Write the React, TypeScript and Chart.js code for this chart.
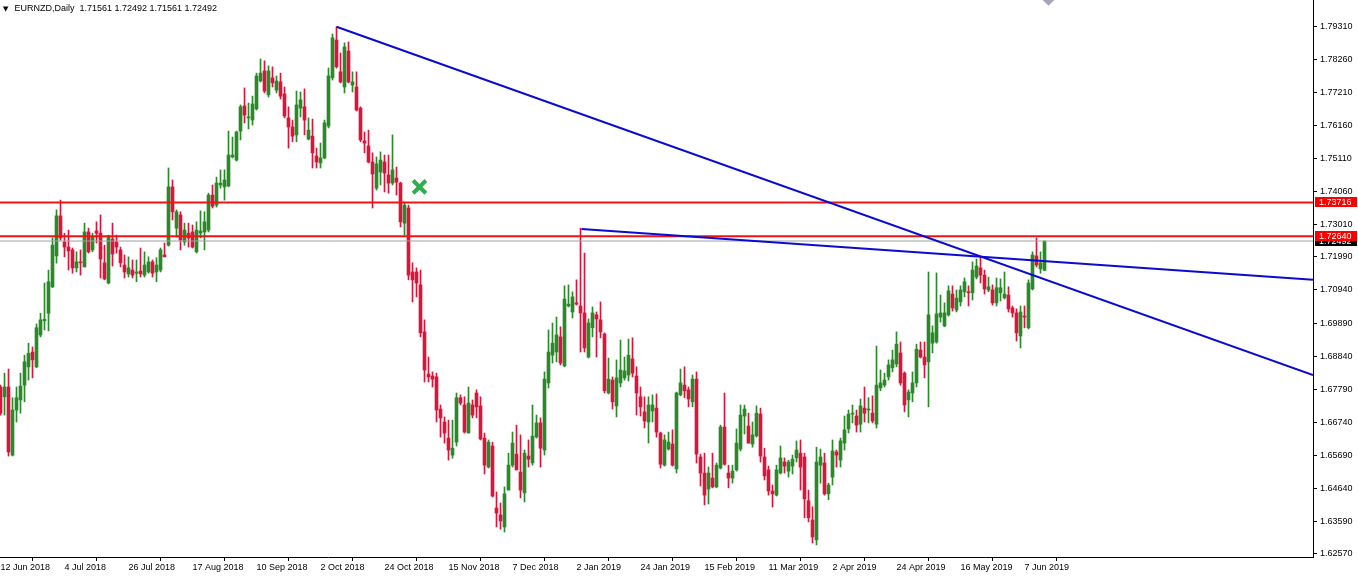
import React, { useEffect, useRef } from 'react';
import { Chart, registerables } from 'chart.js';

Chart.register(...registerables);

// ---------- DATA (EURNZD Daily, one entry per trading day from 12 Jun 2018) ----------
const OPEN = [
  1.6786, 1.6755, 1.6786, 1.6570, 1.6713, 1.6745, 1.6792, 1.6850, 1.6897, 1.6850,
  1.6951, 1.6996, 1.7020, 1.7104, 1.7202, 1.7329, 1.7246, 1.7230, 1.7221, 1.7164,
  1.7183, 1.7167, 1.7278, 1.7221, 1.7281, 1.7274, 1.7180, 1.7116, 1.7255, 1.7246,
  1.7221, 1.7173, 1.7145, 1.7157, 1.7147, 1.7154, 1.7141, 1.7151, 1.7183, 1.7151,
  1.7157, 1.7205, 1.7236, 1.7421, 1.7290, 1.7332, 1.7246, 1.7274, 1.7278, 1.7215,
  1.7274, 1.7278, 1.7284, 1.7395, 1.7363, 1.7427, 1.7421, 1.7424, 1.7516, 1.7506,
  1.7598, 1.7678, 1.7640, 1.7633, 1.7668, 1.7757, 1.7789, 1.7713, 1.7767, 1.7728,
  1.7754, 1.7716, 1.7640, 1.7611, 1.7586, 1.7671, 1.7675, 1.7573, 1.7582, 1.7519,
  1.7497, 1.7513, 1.7614, 1.7767, 1.7887, 1.7786, 1.7738, 1.7852, 1.7744, 1.7738,
  1.7671, 1.7567, 1.7551, 1.7500, 1.7417, 1.7468, 1.7500, 1.7459, 1.7433, 1.7449,
  1.7433, 1.7306, 1.7354, 1.7151, 1.7151, 1.7110, 1.6961, 1.6827, 1.6821, 1.6818,
  1.6716, 1.6675, 1.6624, 1.6570, 1.6611, 1.6752, 1.6729, 1.6640, 1.6729, 1.6767,
  1.6726, 1.6624, 1.6532, 1.6599, 1.6402, 1.6380, 1.6342, 1.6459, 1.6538, 1.6573,
  1.6516, 1.6450, 1.6567, 1.6545, 1.6627, 1.6672, 1.6586, 1.6799, 1.6887, 1.6897,
  1.6945, 1.6853, 1.7043, 1.7024, 1.7053, 1.7043, 1.7021, 1.6881, 1.6974, 1.7015,
  1.6999, 1.6954, 1.6767, 1.6808, 1.6726, 1.6799, 1.6815, 1.6824, 1.6875, 1.6821,
  1.6755, 1.6707, 1.6675, 1.6710, 1.6719, 1.6640, 1.6538, 1.6589, 1.6605, 1.6526,
  1.6761, 1.6792, 1.6777, 1.6739, 1.6811, 1.6564, 1.6513, 1.6462, 1.6497, 1.6469,
  1.6529, 1.6659, 1.6513, 1.6497, 1.6523, 1.6589, 1.6694, 1.6662, 1.6605, 1.6631,
  1.6700, 1.6564, 1.6523, 1.6456, 1.6443, 1.6513, 1.6548, 1.6519, 1.6535, 1.6561,
  1.6576, 1.6564, 1.6425, 1.6364, 1.6301, 1.6538, 1.6545, 1.6447, 1.6500, 1.6580,
  1.6554, 1.6608, 1.6653, 1.6700, 1.6694, 1.6668, 1.6719, 1.6713, 1.6703, 1.6668,
  1.6783, 1.6792, 1.6818, 1.6847, 1.6859, 1.6894, 1.6830, 1.6745, 1.6767, 1.6799,
  1.6903, 1.6881, 1.6866, 1.6925, 1.6929, 1.7008, 1.6980, 1.7015, 1.7081, 1.7030,
  1.7056, 1.7088, 1.7088, 1.7085, 1.7135, 1.7164, 1.7141, 1.7094, 1.7094, 1.7053,
  1.7085, 1.7069, 1.7078, 1.7037, 1.7021, 1.6948, 1.7011, 1.6974, 1.7097, 1.7202,
  1.7161, 1.71561,
];

const HIGH = [
  1.6792, 1.6830, 1.6843, 1.6752, 1.6786, 1.6830, 1.6887, 1.6925, 1.6913, 1.6986,
  1.7020, 1.7116, 1.7157, 1.7259, 1.7348, 1.7379, 1.7274, 1.7284, 1.7227, 1.7215,
  1.7221, 1.7306, 1.7290, 1.7274, 1.7310, 1.7332, 1.7236, 1.7268, 1.7306, 1.7268,
  1.7230, 1.7205, 1.7199, 1.7189, 1.7189, 1.7227, 1.7215, 1.7199, 1.7189, 1.7196,
  1.7227, 1.7243, 1.7481, 1.7443, 1.7348, 1.7342, 1.7306, 1.7306, 1.7300, 1.7310,
  1.7345, 1.7342, 1.7401, 1.7427, 1.7452, 1.7475, 1.7475, 1.7598, 1.7579, 1.7598,
  1.7681, 1.7735, 1.7687, 1.7709, 1.7782, 1.7827, 1.7821, 1.7805, 1.7802, 1.7773,
  1.7782, 1.7738, 1.7675, 1.7633, 1.7725, 1.7722, 1.7732, 1.7640, 1.7636, 1.7544,
  1.7560, 1.7633, 1.7798, 1.7906, 1.7929, 1.7846, 1.7878, 1.7881, 1.7786, 1.7786,
  1.7675, 1.7595, 1.7601, 1.7529, 1.7516, 1.7532, 1.7522, 1.7522, 1.7586, 1.7484,
  1.7436, 1.7373, 1.7363, 1.7180, 1.7164, 1.7157, 1.6999, 1.6881, 1.6834, 1.6830,
  1.6729, 1.6691, 1.6681, 1.6681, 1.6767, 1.6761, 1.6755, 1.6786, 1.6745, 1.6777,
  1.6755, 1.6640, 1.6618, 1.6611, 1.6453, 1.6418, 1.6469, 1.6576, 1.6643, 1.6665,
  1.6634, 1.6586, 1.6618, 1.6729, 1.6697, 1.6688, 1.6834, 1.6967, 1.6989, 1.7008,
  1.6977, 1.7107, 1.7110, 1.7088, 1.7126, 1.7290, 1.7211, 1.7002, 1.7040, 1.7024,
  1.7056, 1.6958, 1.6878, 1.6818, 1.6872, 1.6935, 1.6881, 1.6938, 1.6942, 1.6850,
  1.6786, 1.6755, 1.6755, 1.6761, 1.6764, 1.6643, 1.6634, 1.6643, 1.6650, 1.6770,
  1.6843, 1.6850, 1.6786, 1.6824, 1.6834, 1.6573, 1.6576, 1.6532, 1.6576, 1.6545,
  1.6665, 1.6767, 1.6538, 1.6538, 1.6653, 1.6729, 1.6729, 1.6703, 1.6675, 1.6726,
  1.6719, 1.6592, 1.6535, 1.6475, 1.6538, 1.6599, 1.6561, 1.6554, 1.6570, 1.6615,
  1.6618, 1.6576, 1.6459, 1.6406, 1.6595, 1.6589, 1.6576, 1.6481, 1.6618, 1.6586,
  1.6624, 1.6694, 1.6713, 1.6729, 1.6713, 1.6748, 1.6786, 1.6752, 1.6758, 1.6916,
  1.6840, 1.6830, 1.6872, 1.6903, 1.6961, 1.6929, 1.6834, 1.6777, 1.6834, 1.6922,
  1.6929, 1.6929, 1.7151, 1.6980, 1.7148, 1.7078, 1.7053, 1.7107, 1.7107, 1.7094,
  1.7107, 1.7132, 1.7107, 1.7183, 1.7192, 1.7199, 1.7157, 1.7135, 1.7110, 1.7132,
  1.7129, 1.7151, 1.7104, 1.7043, 1.7034, 1.7043, 1.7043, 1.7126, 1.7215, 1.7259,
  1.7215, 1.72492,
];

const LOW = [
  1.6697, 1.6697, 1.6567, 1.6567, 1.6675, 1.6703, 1.6739, 1.6808, 1.6815, 1.6847,
  1.6945, 1.6967, 1.6964, 1.7101, 1.7179, 1.7252, 1.7199, 1.7157, 1.7147, 1.7151,
  1.7141, 1.7167, 1.7211, 1.7215, 1.7243, 1.7132, 1.7126, 1.7113, 1.7170, 1.7211,
  1.7167, 1.7132, 1.7135, 1.7132, 1.7120, 1.7135, 1.7135, 1.7147, 1.7135, 1.7120,
  1.7151, 1.7199, 1.7233, 1.7316, 1.7262, 1.7221, 1.7236, 1.7230, 1.7227, 1.7211,
  1.7259, 1.7221, 1.7278, 1.7354, 1.7357, 1.7417, 1.7379, 1.7421, 1.7513, 1.7503,
  1.7570, 1.7624, 1.7605, 1.7617, 1.7665, 1.7754, 1.7719, 1.7706, 1.7738, 1.7719,
  1.7700, 1.7640, 1.7544, 1.7564, 1.7564, 1.7643, 1.7586, 1.7570, 1.7481, 1.7481,
  1.7481, 1.7510, 1.7608, 1.7760, 1.7798, 1.7751, 1.7719, 1.7751, 1.7722, 1.7662,
  1.7564, 1.7529, 1.7497, 1.7354, 1.7411, 1.7427, 1.7405, 1.7401, 1.7427, 1.7395,
  1.7294, 1.7268, 1.7126, 1.7056, 1.7072, 1.6945, 1.6802, 1.6802, 1.6786, 1.6675,
  1.6627, 1.6608, 1.6554, 1.6560, 1.6599, 1.6729, 1.6640, 1.6640, 1.6688, 1.6688,
  1.6618, 1.6510, 1.6529, 1.6437, 1.6342, 1.6335, 1.6326, 1.6459, 1.6532, 1.6523,
  1.6434, 1.6421, 1.6532, 1.6538, 1.6624, 1.6532, 1.6570, 1.6783, 1.6862, 1.6866,
  1.6856, 1.6850, 1.7040, 1.7005, 1.7046, 1.6897, 1.6897, 1.6878, 1.6945, 1.6881,
  1.6942, 1.6767, 1.6764, 1.6716, 1.6691, 1.6786, 1.6808, 1.6805, 1.6818, 1.6697,
  1.6694, 1.6656, 1.6608, 1.6675, 1.6627, 1.6529, 1.6535, 1.6586, 1.6535, 1.6513,
  1.6758, 1.6752, 1.6723, 1.6723, 1.6545, 1.6472, 1.6412, 1.6415, 1.6466, 1.6466,
  1.6526, 1.6538, 1.6466, 1.6481, 1.6519, 1.6583, 1.6637, 1.6608, 1.6595, 1.6627,
  1.6548, 1.6491, 1.6443, 1.6405, 1.6440, 1.6510, 1.6513, 1.6500, 1.6510, 1.6548,
  1.6459, 1.6371, 1.6358, 1.6291, 1.6285, 1.6481, 1.6443, 1.6428, 1.6475, 1.6532,
  1.6532, 1.6586, 1.6640, 1.6672, 1.6643, 1.6643, 1.6675, 1.6672, 1.6672, 1.6656,
  1.6774, 1.6786, 1.6808, 1.6834, 1.6850, 1.6792, 1.6707, 1.6691, 1.6739, 1.6786,
  1.6878, 1.6815, 1.6723, 1.6894, 1.6925, 1.6992, 1.6977, 1.7011, 1.7027, 1.7024,
  1.7043, 1.7072, 1.7043, 1.7062, 1.7129, 1.7116, 1.7081, 1.7088, 1.7046, 1.7043,
  1.7059, 1.7065, 1.7024, 1.7008, 1.6932, 1.6910, 1.6974, 1.6970, 1.7094, 1.7167,
  1.7147, 1.71561,
];

const CLOSE = [
  1.6703, 1.6786, 1.6580, 1.6713, 1.6752, 1.6789, 1.6866, 1.6893, 1.6872, 1.6974,
  1.6999, 1.7001, 1.7120, 1.7236, 1.7329, 1.7259, 1.7230, 1.7218, 1.7164, 1.7183,
  1.7180, 1.7278, 1.7215, 1.7262, 1.7274, 1.7192, 1.7129, 1.7265, 1.7208, 1.7230,
  1.7180, 1.7151, 1.7164, 1.7141, 1.7151, 1.7145, 1.7173, 1.7183, 1.7147, 1.7173,
  1.7221, 1.7199, 1.7421, 1.7342, 1.7342, 1.7252, 1.7284, 1.7259, 1.7230, 1.7284,
  1.7281, 1.7310, 1.7395, 1.7360, 1.7433, 1.7433, 1.7443, 1.7522, 1.7522, 1.7595,
  1.7675, 1.7649, 1.7643, 1.7684, 1.7773, 1.7782, 1.7725, 1.7789, 1.7751, 1.7757,
  1.7709, 1.7646, 1.7611, 1.7582, 1.7681, 1.7697, 1.7633, 1.7601, 1.7529, 1.7500,
  1.7513, 1.7624, 1.7773, 1.7894, 1.7802, 1.7754, 1.7865, 1.7754, 1.7754, 1.7665,
  1.7570, 1.7560, 1.7500, 1.7462, 1.7494, 1.7506, 1.7465, 1.7433, 1.7475, 1.7436,
  1.7310, 1.7363, 1.7141, 1.7126, 1.7116, 1.6958, 1.6840, 1.6818, 1.6811, 1.6713,
  1.6688, 1.6640, 1.6586, 1.6592, 1.6752, 1.6735, 1.6643, 1.6735, 1.6697, 1.6723,
  1.6621, 1.6538, 1.6611, 1.6440, 1.6386, 1.6361, 1.6447, 1.6538, 1.6608, 1.6523,
  1.6459, 1.6576, 1.6557, 1.6630, 1.6672, 1.6592, 1.6811, 1.6897, 1.6925, 1.6951,
  1.6862, 1.7065, 1.7049, 1.7072, 1.7049, 1.7021, 1.6910, 1.6989, 1.7021, 1.7002,
  1.6961, 1.6774, 1.6811, 1.6739, 1.6815, 1.6840, 1.6837, 1.6887, 1.6830, 1.6767,
  1.6723, 1.6678, 1.6729, 1.6729, 1.6643, 1.6541, 1.6618, 1.6611, 1.6538, 1.6767,
  1.6799, 1.6774, 1.6748, 1.6811, 1.6573, 1.6513, 1.6443, 1.6513, 1.6469, 1.6538,
  1.6659, 1.6541, 1.6497, 1.6519, 1.6608, 1.6697, 1.6716, 1.6608, 1.6634, 1.6703,
  1.6567, 1.6504, 1.6456, 1.6447, 1.6523, 1.6561, 1.6535, 1.6548, 1.6557, 1.6586,
  1.6532, 1.6431, 1.6371, 1.6310, 1.6548, 1.6564, 1.6447, 1.6475, 1.6583, 1.6570,
  1.6615, 1.6650, 1.6700, 1.6703, 1.6665, 1.6726, 1.6703, 1.6716, 1.6678, 1.6792,
  1.6799, 1.6808, 1.6856, 1.6872, 1.6922, 1.6799, 1.6729, 1.6770, 1.6799, 1.6906,
  1.6881, 1.6856, 1.7015, 1.6958, 1.7018, 1.7021, 1.7021, 1.7091, 1.7037, 1.7068,
  1.7094, 1.7120, 1.7085, 1.7157, 1.7170, 1.7141, 1.7097, 1.7104, 1.7053, 1.7101,
  1.7101, 1.7081, 1.7034, 1.7021, 1.6958, 1.7024, 1.7008, 1.7116, 1.7205, 1.7173,
  1.7180, 1.72492,
];

const DATE_TICKS = [
  '12 Jun 2018', '4 Jul 2018', '26 Jul 2018', '17 Aug 2018', '10 Sep 2018',
  '2 Oct 2018', '24 Oct 2018', '15 Nov 2018', '7 Dec 2018', '2 Jan 2019',
  '24 Jan 2019', '15 Feb 2019', '11 Mar 2019', '2 Apr 2019', '24 Apr 2019',
  '16 May 2019', '7 Jun 2019',
];
const DATE_TICK_STEP = 16; // trading days between date labels

const PRICE_TICKS = [
  1.7931, 1.7826, 1.7721, 1.7616, 1.7511, 1.7406, 1.7301, 1.7199, 1.7094,
  1.6989, 1.6884, 1.6779, 1.6674, 1.6569, 1.6464, 1.6359, 1.6257,
];

const RED_LEVELS = [1.73716, 1.7264];
const BID_LEVEL = 1.72492;
const TITLE_SYMBOL = 'EURNZD,Daily';
const TITLE_OHLC = [1.71561, 1.72492, 1.71561, 1.72492];

// trend lines: [start, end] as {x: bar index, y: price}
const TREND_LONG = [{ x: 84, y: 1.7929 }, { x: 328.125, y: 1.6824 }];
const TREND_SHORT = [{ x: 145.25, y: 1.7287 }, { x: 328.125, y: 1.7126 }];
const CROSS_MARK = [{ x: 104.75, y: 1.7421 }];
const SHIFT_MARK = [{ x: 262, y: 1.8021 }];

const X_MIN = -0.125;
const X_MAX = 328.125;
const Y_MIN = 1.62466;
const Y_MAX = 1.8014;

// ---------- STYLE ----------
const BULL = '#2a8a2a';
const BEAR = '#dc143c';
const LINE_RED = '#ee1414';
const BLUE = '#0a0ad2';
const FONT = "'Liberation Sans', Arial, sans-serif";
const FONT_SIZE = 9;

const priceTags = {
  id: 'priceTags',
  afterDraw(chart: any) {
    const { ctx, chartArea } = chart;
    const ys = chart.scales.y;
    const tags = [
      { v: BID_LEVEL, bg: '#000000' },
      ...RED_LEVELS.map((v) => ({ v, bg: '#ff0000' })),
    ];
    ctx.save();
    ctx.font = `${FONT_SIZE}px ${FONT}`;
    ctx.textBaseline = 'middle';
    ctx.textAlign = 'left';
    for (const t of tags) {
      const py = Math.round(ys.getPixelForValue(t.v));
      ctx.fillStyle = t.bg;
      ctx.fillRect(chartArea.right + 2, py - 5, 42, 10);
      ctx.fillStyle = '#ffffff';
      ctx.fillText(t.v.toFixed(5), chartArea.right + 6, py + 0.5);
    }
    ctx.restore();
  },
};

export default function App() {
  const ref = useRef<HTMLCanvasElement | null>(null);

  useEffect(() => {
    if (!ref.current) return;
    const idx = OPEN.map((_, i) => i);
    const colors = idx.map((i) => (CLOSE[i] >= OPEN[i] ? BULL : BEAR));
    const hLine = (v: number) => [{ x: X_MIN, y: v }, { x: X_MAX, y: v }];

    const chart = new Chart(ref.current, {
      type: 'bar',
      data: {
        datasets: [
          {
            type: 'bar',
            data: idx.map((i) => ({ x: i, y: [LOW[i], HIGH[i]] })) as any,
            backgroundColor: colors,
            barThickness: 1,
            grouped: false,
            borderWidth: 0,
            order: 11,
          } as any,
          {
            type: 'bar',
            data: idx.map((i) => ({ x: i, y: [OPEN[i], CLOSE[i]] })) as any,
            backgroundColor: colors,
            barThickness: 3,
            grouped: false,
            minBarLength: 1,
            borderWidth: 0,
            order: 10,
          } as any,
          {
            type: 'line',
            data: hLine(BID_LEVEL),
            borderColor: '#a0a0a0',
            borderWidth: 1,
            pointRadius: 0,
            order: 5,
          } as any,
          ...RED_LEVELS.map((v) => ({
            type: 'line',
            data: hLine(v),
            borderColor: LINE_RED,
            borderWidth: 2,
            pointRadius: 0,
            order: 3,
          })) as any,
          {
            type: 'line',
            data: TREND_LONG,
            borderColor: BLUE,
            borderWidth: 2,
            pointRadius: 0,
            order: 2,
          } as any,
          {
            type: 'line',
            data: TREND_SHORT,
            borderColor: BLUE,
            borderWidth: 2,
            pointRadius: 0,
            order: 2,
          } as any,
          {
            type: 'line',
            data: CROSS_MARK,
            showLine: false,
            pointStyle: 'crossRot',
            pointRadius: 9,
            pointBorderWidth: 4,
            pointBorderColor: '#2fae4e',
            pointBackgroundColor: '#2fae4e',
            order: 1,
          } as any,
          {
            type: 'line',
            data: SHIFT_MARK,
            showLine: false,
            pointStyle: 'rectRot',
            pointRadius: 8,
            pointBorderWidth: 0,
            pointBackgroundColor: '#a4a6b8',
            order: 1,
          } as any,
        ],
      },
      options: {
        animation: false,
        responsive: false,
        maintainAspectRatio: false,
        events: [],
        layout: { padding: 0, autoPadding: false },
        plugins: {
          legend: { display: false },
          tooltip: { enabled: false },
          title: { display: false },
        },
        scales: {
          x: {
            type: 'linear',
            min: X_MIN,
            max: X_MAX,
            offset: false,
            grid: { drawOnChartArea: false, drawTicks: true, tickLength: 4, color: '#000000' },
            border: { display: true, color: '#000000', width: 1 },
            ticks: {
              autoSkip: false,
              maxRotation: 0,
              minRotation: 0,
              align: 'start',
              padding: 1,
              color: '#000000',
              font: { family: FONT, size: FONT_SIZE },
              callback: (v: any) => DATE_TICKS[Math.round(Number(v) / DATE_TICK_STEP)] ?? '',
            },
            afterBuildTicks: (s: any) => {
              s.ticks = DATE_TICKS.map((_, i) => ({ value: i * DATE_TICK_STEP }));
            },
            afterFit: (s: any) => {
              s.height = 21;
              s.paddingLeft = 0;
              s.paddingRight = 0;
            },
          } as any,
          y: {
            type: 'linear',
            position: 'right',
            min: Y_MIN,
            max: Y_MAX,
            grid: { drawOnChartArea: false, drawTicks: true, tickLength: 4, color: '#000000' },
            border: { display: true, color: '#000000', width: 1 },
            ticks: {
              padding: 3,
              color: '#000000',
              font: { family: FONT, size: FONT_SIZE },
              callback: (v: any) => Number(v).toFixed(5),
            },
            afterBuildTicks: (s: any) => {
              s.ticks = PRICE_TICKS.map((v) => ({ value: v }));
            },
            afterFit: (s: any) => {
              s.width = 45;
              s.paddingTop = 0;
              s.paddingBottom = 0;
            },
          } as any,
        },
      },
      plugins: [priceTags],
    });
    return () => chart.destroy();
  }, []);

  return (
    <div style={{ position: 'absolute', left: 0, top: 0, width: 1358, height: 578, background: '#ffffff', overflow: 'hidden' }}>
      <canvas ref={ref} width={1358} height={578} style={{ width: 1358, height: 578, display: 'block' }} />
      <div
        style={{
          position: 'absolute',
          left: 3,
          top: 2,
          font: `${FONT_SIZE}px ${FONT}`,
          color: '#000000',
          whiteSpace: 'pre',
          lineHeight: '12px',
        }}
      >
        <span style={{ fontSize: 7, fontFamily: 'DejaVu Sans', marginRight: 6 }}>▼</span>
        {TITLE_SYMBOL + '  ' + TITLE_OHLC.map((v) => v.toFixed(5)).join(' ')}
      </div>
    </div>
  );
}
